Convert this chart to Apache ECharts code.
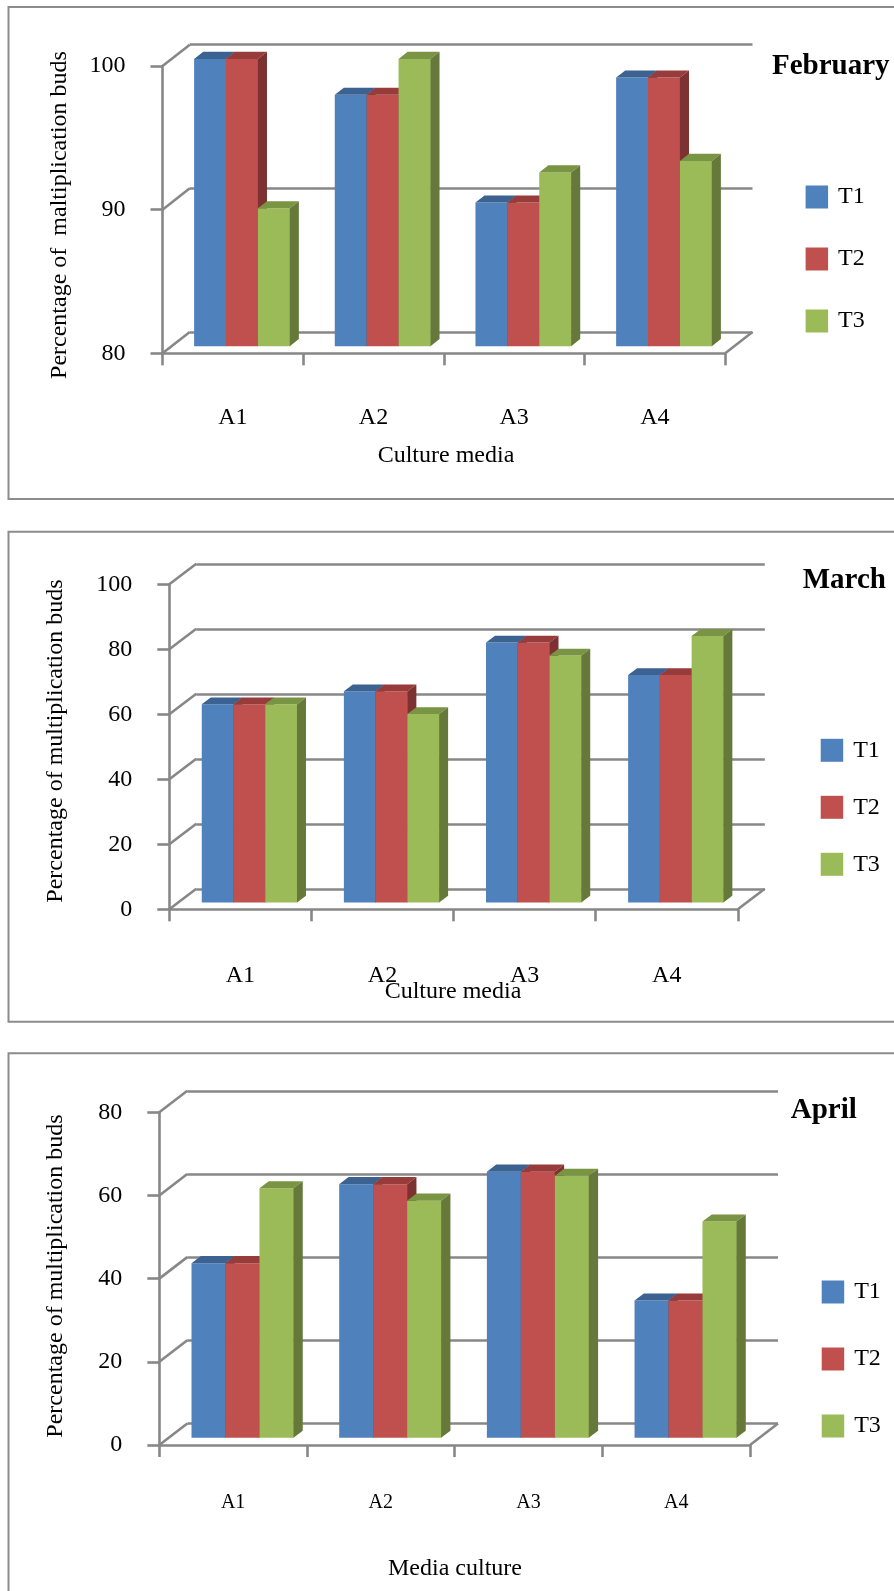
<!DOCTYPE html>
<html>
<head>
<meta charset="utf-8">
<script src="https://cdn.jsdelivr.net/npm/echarts@6/dist/echarts.min.js"></script>
<style>
  html, body { margin: 0; padding: 0; background: #ffffff; }
  #chart { width: 894px; height: 1591px; }
</style>
</head>
<body>
<div id="chart"></div>
<script>
// Culture media (categories) and treatments (series)
const categories = ['A1', 'A2', 'A3', 'A4'];
const treatments = ['T1', 'T2', 'T3'];

// February: percentage of multiplication buds
const febT1 = [100, 97.5, 90, 98.7];
const febT2 = [100, 97.5, 90, 98.7];
const febT3 = [89.6, 100, 92.1, 92.9];
const febTicks = [80, 90, 100];

// March
const marT1 = [61, 65, 80, 70];
const marT2 = [61, 65, 80, 70];
const marT3 = [61, 58, 76, 82];
const marTicks = [0, 20, 40, 60, 80, 100];

// April
const aprT1 = [42, 61, 64, 33];
const aprT2 = [42, 61, 64, 33];
const aprT3 = [60, 57, 63, 52];
const aprTicks = [0, 20, 40, 60, 80];

// Layout of the three stacked panels (front plane of each 3D plot box)
const panels = [
  {
    title: 'February', titleX: 772, titleY: 67,
    yName: 'Percentage of  maltiplication buds', yNameX: 60, yNameY: 215,
    xName: 'Culture media', xNameX: 446, xNameY: 456,
    values: [febT1, febT2, febT3], ticks: febTicks,
    left: 162.5, top: 66, width: 562.7, height: 287.3,
    depth: [27.3, -21.3], groupRatio: 0.68,
    catFont: 24, catMargin: 52,
    legend: { left: 805.6, top: 185, gap: 38 },
    border: { y: 7, h: 492 }
  },
  {
    title: 'March', titleX: 802.7, titleY: 581,
    yName: 'Percentage of multiplication buds', yNameX: 56, yNameY: 741,
    xName: 'Culture media', xNameX: 453, xNameY: 992,
    values: [marT1, marT2, marT3], ticks: marTicks,
    left: 169.3, top: 584.3, width: 568.5, height: 325,
    depth: [27, -20.5], groupRatio: 0.67,
    catFont: 24, catMargin: 54,
    legend: { left: 820.7, top: 738.3, gap: 33 },
    border: { y: 531.7, h: 490 }
  },
  {
    title: 'April', titleX: 790.7, titleY: 1111,
    yName: 'Percentage of multiplication buds', yNameX: 56, yNameY: 1276,
    xName: 'Media culture', xNameX: 455, xNameY: 1569,
    values: [aprT1, aprT2, aprT3], ticks: aprTicks,
    left: 159.3, top: 1112.3, width: 590.7, height: 332.7,
    depth: [28, -21.5], groupRatio: 0.69,
    catFont: 20, catMargin: 48,
    legend: { left: 821.7, top: 1280, gap: 43 },
    border: { y: 1053.3, h: 600 }
  }
];

// Face shades of the 3D columns: front, top, side
const shades = [
  { front: '#4F81BD', top: '#3B6291', side: '#2F4F78' },
  { front: '#C0504D', top: '#973C3A', side: '#7D3131' },
  { front: '#9BBB59', top: '#799443', side: '#66793A' }
];

const serif = '"Liberation Serif", "Times New Roman", serif';
const axisGray = '#878787';
const axisWidth = 2.6;

const grid = [], xAxis = [], yAxis = [], series = [], legend = [], graphic = [];

panels.forEach(function (p, pi) {
  const yMin = p.ticks[0];
  const yMax = p.ticks[p.ticks.length - 1];
  const step = p.ticks[1] - p.ticks[0];
  const dx = p.depth[0], dy = p.depth[1];

  // front plane (axes, labels) and back wall (gridlines)
  grid.push({ left: p.left, top: p.top, width: p.width, height: p.height });
  grid.push({ left: p.left + dx, top: p.top + dy, width: p.width, height: p.height });
  const front = pi * 2, back = pi * 2 + 1;

  xAxis.push({
    type: 'category', gridIndex: front, data: categories,
    axisLine: { show: true, onZero: false, lineStyle: { color: axisGray, width: axisWidth } },
    axisTick: { show: true, length: 12, lineStyle: { color: axisGray, width: axisWidth } },
    axisLabel: { color: '#000', fontFamily: serif, fontSize: p.catFont, margin: p.catMargin },
    splitLine: { show: false }
  });
  xAxis.push({ type: 'category', gridIndex: back, data: categories, show: false });

  yAxis.push({
    type: 'value', gridIndex: front, min: yMin, max: yMax, interval: step,
    axisLine: { show: true, lineStyle: { color: axisGray, width: axisWidth } },
    axisTick: { show: true, length: 12, lineStyle: { color: axisGray, width: axisWidth } },
    axisLabel: { color: '#000', fontFamily: serif, fontSize: 24, margin: 37, padding: [3, 0, 0, 0] },
    splitLine: { show: false }
  });
  yAxis.push({
    type: 'value', gridIndex: back, min: yMin, max: yMax, interval: step,
    axisLine: { show: false }, axisTick: { show: false }, axisLabel: { show: false },
    splitLine: { show: true, lineStyle: { color: axisGray, width: axisWidth } }
  });

  // diagonal edges of the left wall at each tick, plus the right floor edge
  series.push({
    type: 'custom', xAxisIndex: front, yAxisIndex: front, silent: true,
    data: p.ticks.map(function (t) { return [0, t]; }),
    encode: { x: 0, y: 1 },
    z: 1,
    renderItem: function (params, api) {
      const v = api.value(1);
      const y = api.coord([0, v])[1];
      const cs = params.coordSys;
      const ls = { stroke: axisGray, lineWidth: axisWidth };
      const children = [{ type: 'line', shape: { x1: cs.x, y1: y, x2: cs.x + dx, y2: y + dy }, style: ls }];
      if (v === yMin) {
        const xr = cs.x + cs.width;
        children.push({ type: 'line', shape: { x1: xr, y1: y, x2: xr + dx, y2: y + dy }, style: ls });
      }
      return { type: 'group', children: children };
    }
  });

  // 3D columns: one custom series per treatment
  p.values.forEach(function (vals, k) {
    const c = shades[k];
    series.push({
      name: treatments[k], type: 'custom',
      xAxisIndex: front, yAxisIndex: front,
      itemStyle: { color: c.front },
      data: vals.map(function (v, i) { return [i, v]; }),
      encode: { x: 0, y: 1 },
      z: 3,
      renderItem: function (params, api) {
        const i = api.value(0), v = api.value(1);
        const topPt = api.coord([i, v]);
        const basePt = api.coord([i, yMin]);
        const band = api.size([1, 0])[0];
        const gw = band * p.groupRatio, bw = gw / 3;
        const sx = dx / 3, sy = dy / 3;
        const x0 = topPt[0] - gw / 2 + k * bw + sx;
        const yt = topPt[1] + sy, yb = basePt[1] + sy;
        return {
          type: 'group',
          children: [
            { type: 'rect', shape: { x: x0, y: yt, width: bw + 0.4, height: yb - yt }, style: { fill: c.front } },
            { type: 'polygon', shape: { points: [[x0, yt], [x0 + bw, yt], [x0 + bw + sx, yt + sy], [x0 + sx, yt + sy]] }, style: { fill: c.top } },
            { type: 'polygon', shape: { points: [[x0 + bw, yt], [x0 + bw + sx, yt + sy], [x0 + bw + sx, yb + sy], [x0 + bw, yb]] }, style: { fill: c.side } }
          ]
        };
      }
    });
  });

  legend.push({
    orient: 'vertical', left: p.legend.left, top: p.legend.top, padding: 0,
    itemWidth: 22.5, itemHeight: 23, itemGap: p.legend.gap, icon: 'rect',
    selectedMode: false,
    data: treatments.map(function (t) { return { name: t }; }),
    textStyle: { color: '#000', fontFamily: serif, fontSize: 24, lineHeight: 23, padding: [0, 0, 0, 5] }
  });

  // panel frame, month title and axis titles
  graphic.push({
    type: 'rect', silent: true, z: -1,
    shape: { x: 8.5, y: p.border.y, width: 900, height: p.border.h },
    style: { fill: 'none', stroke: '#8c8c8c', lineWidth: 2 }
  });
  graphic.push({
    type: 'text', x: p.titleX, y: p.titleY,
    style: { text: p.title, fill: '#000', font: 'bold 29px ' + serif, textAlign: 'left', textVerticalAlign: 'middle' }
  });
  graphic.push({
    type: 'text', x: p.yNameX, y: p.yNameY, rotation: Math.PI / 2,
    style: { text: p.yName, fill: '#000', font: '24px ' + serif, textAlign: 'center', textVerticalAlign: 'middle' }
  });
  graphic.push({
    type: 'text', x: p.xNameX, y: p.xNameY,
    style: { text: p.xName, fill: '#000', font: '24px ' + serif, textAlign: 'center', textVerticalAlign: 'middle' }
  });
});

const chart = echarts.init(document.getElementById('chart'), null, { renderer: 'canvas' });
chart.setOption({
  animation: false,
  backgroundColor: '#ffffff',
  grid: grid,
  xAxis: xAxis,
  yAxis: yAxis,
  legend: legend,
  graphic: graphic,
  series: series
});
</script>
</body>
</html>
